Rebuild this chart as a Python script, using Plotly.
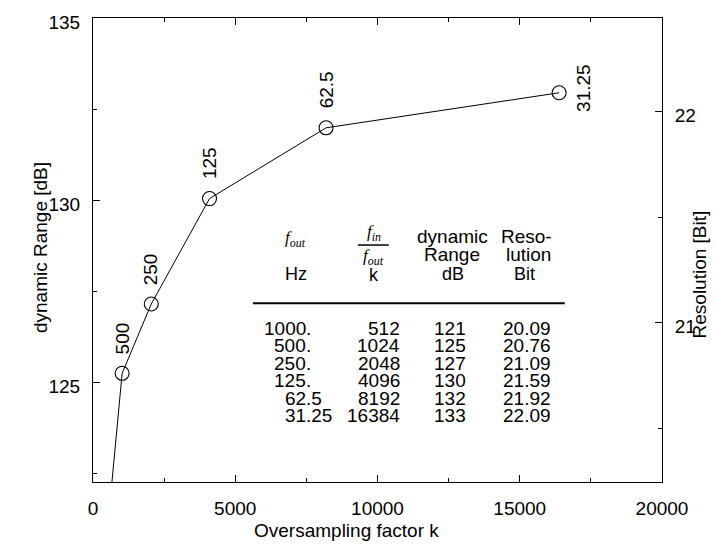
import plotly.graph_objects as go

# ---------------- data ----------------
k_factor = [512, 1024, 2048, 4096, 8192, 16384]
dyn_range_plot = [121.0, 125.26, 127.16, 130.05, 131.99, 132.95]
resolution_bits = [20.09, 20.76, 21.09, 21.59, 21.92, 22.09]
point_labels = ["1000", "500", "250", "125", "62.5", "31.25"]

table_fout = ["1000.", "500.", "250.", "125.", "62.5", "31.25"]
table_k = ["512", "1024", "2048", "4096", "8192", "16384"]
table_db = ["121", "125", "127", "130", "132", "133"]
table_bits = ["20.09", "20.76", "21.09", "21.59", "21.92", "22.09"]

x_range = [0, 20000]
y_range = [122.28, 135]
y2_range = [20.245, 22.443]

# ---------------- layout helpers (pixel -> paper) ----------------
L, R, T, B = 93, 662.3, 14, 482
W, H = R - L, B - T


def PX(x):
    return (x - L) / W


def PY(y):
    return (B - y) / H


FONT = "Liberation Sans, Arial, Helvetica, sans-serif"
UNIT_FONT = "Liberation Sans Narrow, Liberation Sans, Arial, sans-serif"
MATH_FONT = "Liberation Serif, Times New Roman, serif"
FS = 19

fig = go.Figure()
fig.add_trace(go.Scatter(
    x=k_factor, y=dyn_range_plot, mode="lines+markers",
    line=dict(color="black", width=1),
    marker=dict(symbol="circle-open", size=14, color="black", line=dict(width=1.1)),
    showlegend=False, hoverinfo="skip", cliponaxis=True,
))
fig.add_trace(go.Scatter(
    x=k_factor, y=resolution_bits, yaxis="y2", mode="markers",
    marker=dict(opacity=0), showlegend=False, hoverinfo="skip",
))

ann = []
# point labels (rotated)
for i in range(1, len(k_factor)):
    if i < len(k_factor) - 1:
        ann.append(dict(x=k_factor[i], y=dyn_range_plot[i], xref="x", yref="y",
                        text=point_labels[i], textangle=-90, showarrow=False,
                        xanchor="center", yanchor="bottom", yshift=17,
                        font=dict(family=FONT, size=FS, color="black")))
    else:
        ann.append(dict(x=k_factor[i], y=dyn_range_plot[i], xref="x", yref="y",
                        text=point_labels[i], textangle=-90, showarrow=False,
                        xanchor="center", yanchor="middle", xshift=25, yshift=5,
                        font=dict(family=FONT, size=FS, color="black")))


def txt(x, y, s, family=FONT, size=FS, xanchor="center"):
    ann.append(dict(x=PX(x), y=PY(y), xref="paper", yref="paper", text=s,
                    showarrow=False, xanchor=xanchor, yanchor="middle",
                    borderpad=0, borderwidth=0,
                    font=dict(family=family, size=size, color="black")))


# table headers
txt(296, 237, "<i>f</i><sub><i>out</i></sub>", family=MATH_FONT, size=17)
txt(296, 272, "Hz", family=UNIT_FONT, size=18)
txt(374, 231, "<i>f</i><sub><i>in</i></sub>", family=MATH_FONT, size=17)
txt(374, 255, "<i>f</i><sub><i>out</i></sub>", family=MATH_FONT, size=17)
txt(374, 273, "k", family=UNIT_FONT, size=18)
txt(453, 234, "dynamic")
txt(452, 253, "Range")
txt(453, 272, "dB", family=UNIT_FONT, size=18)
txt(527, 234, "Reso-")
txt(529, 253, "lution")
txt(525, 272, "Bit", family=UNIT_FONT, size=18)

# table rows
row0, drow = 327, 17.6
dec_x = 306
for i in range(len(table_fout)):
    y = row0 + drow * i
    ip, fp = table_fout[i].split(".")
    txt(dec_x, y, ip, xanchor="right")
    txt(dec_x, y, "." + fp, xanchor="left")
    txt(400, y, table_k[i], xanchor="right")
    txt(450, y, table_db[i])
    txt(527.5, y, table_bits[i])

# axis titles
ann.append(dict(x=PX(346.5), y=PY(531), xref="paper", yref="paper",
                text="Oversampling factor k", showarrow=False,
                xanchor="center", yanchor="middle",
                font=dict(family=FONT, size=FS, color="black")))
ann.append(dict(x=PX(40), y=PY(246), xref="paper", yref="paper",
                text="dynamic Range [dB]", textangle=-90, showarrow=False,
                xanchor="center", yanchor="middle",
                font=dict(family=FONT, size=FS, color="black")))
ann.append(dict(x=PX(700), y=PY(273), xref="paper", yref="paper",
                text="Resolution [Bit]", textangle=-90, showarrow=False,
                xanchor="center", yanchor="middle",
                font=dict(family=FONT, size=FS, color="black")))

shapes = [
    dict(type="line", xref="paper", yref="paper", x0=PX(253), x1=PX(565),
         y0=PY(301.7), y1=PY(301.7), line=dict(color="black", width=2)),
    dict(type="line", xref="paper", yref="paper", x0=PX(358), x1=PX(389),
         y0=PY(243), y1=PY(243), line=dict(color="black", width=1.5)),
]

axis_common = dict(showgrid=False, zeroline=False, showline=True,
                   linecolor="black", linewidth=1, ticks="inside",
                   tickcolor="black", tickwidth=1, ticklen=7,
                   tickfont=dict(family=FONT, size=FS, color="black"))

fig.update_layout(
    width=715, height=551,
    margin=dict(l=L, r=715 - R, t=T, b=551 - B),
    paper_bgcolor="white", plot_bgcolor="white",
    xaxis=dict(range=x_range, dtick=5000, tick0=0, mirror="ticks",
               tickformat="d", ticklabelstandoff=9,
               minor=dict(dtick=2500, ticks="inside", ticklen=4,
                          tickcolor="black", showgrid=False),
               **axis_common),
    yaxis=dict(range=y_range, dtick=5, tick0=0, mirror=False,
               ticklabelstandoff=8, ticklabelshift=4,
               minor=dict(dtick=2.5, ticks="inside", ticklen=4,
                          tickcolor="black", showgrid=False),
               **axis_common),
    yaxis2=dict(range=y2_range, dtick=1, tick0=0, overlaying="y", side="right",
                ticklabelstandoff=8, ticklabelshift=4,
                minor=dict(dtick=0.5, ticks="inside", ticklen=4,
                           tickcolor="black", showgrid=False),
                **axis_common),
    annotations=ann,
    shapes=shapes,
)

fig.write_html("out.html")
